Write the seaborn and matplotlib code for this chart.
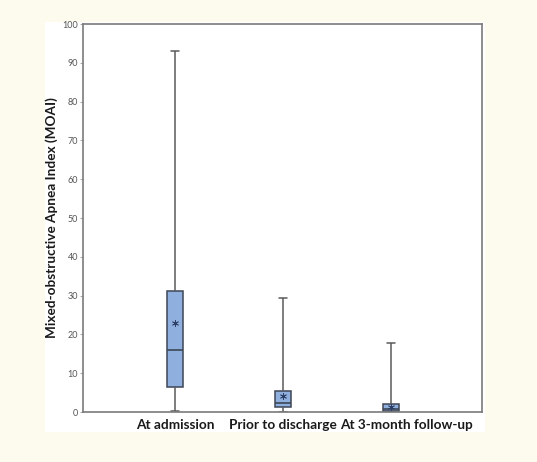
import matplotlib
matplotlib.use("Agg")
import matplotlib.pyplot as plt
import matplotlib.transforms as mtrans
import seaborn as sns
import pandas as pd
from matplotlib.patches import Rectangle

categories = ["At admission", "Prior to discharge", "At 3-month follow-up"]
whisker_low = [0.3, 0.0, 0.0]
q1 = [6.4, 1.3, 0.2]
median = [16.1, 2.3, 0.8]
q3 = [31.1, 5.4, 2.1]
whisker_high = [93.1, 29.4, 17.9]
means = [23.0, 4.1, 1.3]
yticks = [0, 10, 20, 30, 40, 50, 60, 70, 80, 90, 100]

# five-number summaries as rows (quartiles of 5 points reproduce the box exactly)
rows = []
for i, c in enumerate(categories):
    for v in (whisker_low[i], q1[i], median[i], q3[i], whisker_high[i]):
        rows.append({"time": c, "MOAI": v})
df = pd.DataFrame(rows)
mean_df = pd.DataFrame({"time": categories, "MOAI": means})

sns.set_style("white")
plt.rcParams["font.family"] = ["Lato", "DejaVu Sans"]
fig = plt.figure(figsize=(5.37, 4.62), dpi=100)
fig.patch.set_facecolor("#fcfbee")
fig.patches.append(Rectangle((45 / 537, 1 - 432 / 462), 440 / 537, 410 / 462,
                             transform=fig.transFigure, facecolor="white",
                             edgecolor="none", zorder=-10))
ax = fig.add_axes([83 / 537, 1 - 412 / 462, 399 / 537, 388 / 462])
ax.set_facecolor("white")
ax.set_zorder(5)

edge = "#3d4756"
sns.boxplot(data=df, x="time", y="MOAI", order=categories, whis=(0, 100),
            width=0.15, color="#8fb0de", linecolor=edge, linewidth=1.1,
            fliersize=0, saturation=1, ax=ax,
            whiskerprops={"color": "#5a5a5a"}, capprops={"color": "#5a5a5a"},
            medianprops={"color": edge, "linewidth": 1.2})
sns.scatterplot(data=mean_df, x="time", y="MOAI", marker=(6, 2, 0), s=20,
                color="#2e3f66", linewidth=0.6, ax=ax, zorder=5)

ax.set_xlim(-0.85, 2.84)
ax.set_ylim(0, 100)
ax.set_yticks(yticks)
ax.set_yticklabels([str(t) for t in yticks], fontsize=6.5, color="#555555")
ax.tick_params(axis="y", length=2, width=0.6, color="#999999", pad=1.5, left=True)
ax.tick_params(axis="x", length=0, pad=5)
for lab in ax.get_xticklabels():
    lab.set_fontsize(9.8)
    lab.set_fontweight("bold")
    lab.set_color("#1a1a1a")
third = ax.get_xticklabels()[2]
third.set_transform(third.get_transform() +
                    mtrans.ScaledTranslation(15 / 100, 0, fig.dpi_scale_trans))
ax.set_xlabel("")
ax.set_ylabel("Mixed-obstructive Apnea Index (MOAI)", fontsize=9.8,
              fontweight="bold", color="#1a1a1a", labelpad=3)
for s in ax.spines.values():
    s.set_visible(True)
    s.set_color("#7a7a7a")
    s.set_linewidth(1.2)

fig.savefig("out.png", dpi=100, facecolor=fig.get_facecolor())
